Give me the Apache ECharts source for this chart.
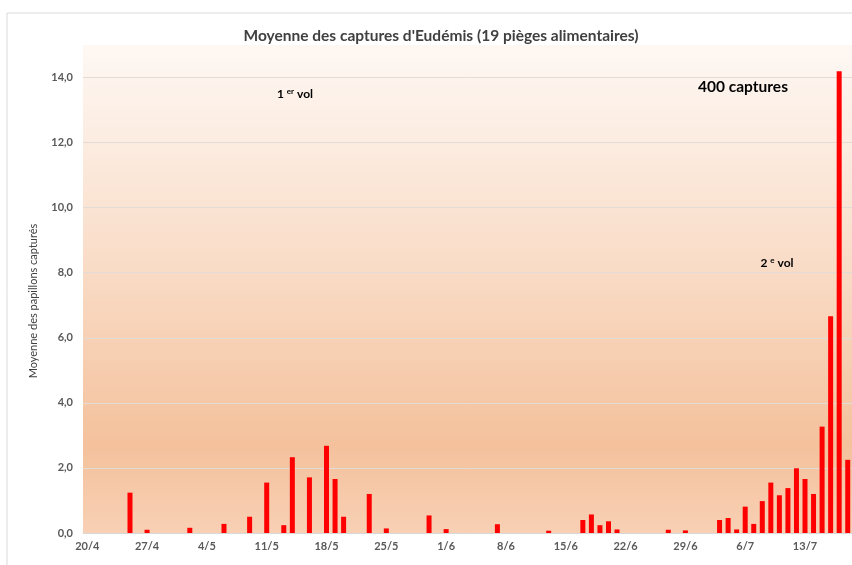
<!DOCTYPE html>
<html><head><meta charset="utf-8">
<script src="https://cdn.jsdelivr.net/npm/echarts@6/dist/echarts.min.js"></script>
<style>html,body{margin:0;padding:0;background:#fff}#c{width:852px;height:565px}</style>
</head><body><div id="c"></div>
<script>
// Categories: daily dates from 20/4 to 18/7 (90 days)
const startDay = 20, startMonth = 4;
const monthLengths = {4: 30, 5: 31, 6: 30, 7: 31};
const dayCount = 90;
const categories = [];
(function(){ let d = startDay, m = startMonth; for (let i = 0; i < dayCount; i++) { categories.push(d + '/' + m); d++; if (d > monthLengths[m]) { d = 1; m++; } } })();

// Mean captures per day
const meanCaptures = [
  0,0,0,0,0,1.24,0,0.10,0,0,
  0,0,0.16,0,0,0,0.28,0,0,0.50,
  0,1.55,0,0.24,2.33,0,1.71,0,2.68,1.66,
  0.50,0,0,1.20,0,0.14,0,0,0,0,
  0.54,0,0.12,0,0,0,0,0,0.27,0,
  0,0,0,0,0.07,0,0,0,0.40,0.57,
  0.24,0.36,0.11,0,0,0,0,0,0.10,0,
  0.08,0,0,0,0.40,0.46,0.11,0.81,0.28,0.98,
  1.55,1.16,1.38,1.99,1.66,1.20,3.27,6.66,14.19,2.25
];
const yTicks = [0, 2, 4, 6, 8, 10, 12, 14];

const titleText = "Moyenne des captures d'Eudémis (19 pièges alimentaires)";
const yAxisTitle = 'Moyenne des papillons capturés';

const chart = echarts.init(document.getElementById('c'), null, {renderer: 'canvas'});
const FONT = 'Lato, "Open Sans", sans-serif';
chart.setOption({
  animation: false,
  backgroundColor: '#ffffff',
  title: {
    text: titleText, left: 436, top: 23, textAlign: 'center',
    textStyle: {fontFamily: FONT, fontSize: 15.5, fontWeight: 'bold', color: '#404040'}
  },
  grid: {
    left: 83, right: 0, top: 45, bottom: 32, show: true, borderWidth: 0,
    backgroundColor: {type: 'linear', x: 0, y: 0, x2: 0, y2: 1, colorStops: [
      {offset: 0, color: '#fef8f4'},
      {offset: 0.45, color: '#f9dcc7'},
      {offset: 0.82, color: '#f4c19c'},
      {offset: 1, color: '#f8d0b4'}
    ]}
  },
  xAxis: {
    type: 'category', data: categories, boundaryGap: true,
    axisLine: {lineStyle: {color: '#d9d9d9'}},
    axisTick: {interval: 6, length: 4, lineStyle: {color: '#bfbfbf'}},
    axisLabel: {interval: 6, margin: 8, fontFamily: FONT, fontSize: 11, fontWeight: 'bold', color: '#595959'}
  },
  yAxis: {
    type: 'value', min: 0, max: 15, interval: 2,
    axisLine: {show: false}, axisTick: {show: false},
    splitLine: {show: true, showMaxLine: false, lineStyle: {color: '#e3dcd6'}},
    axisLabel: {
      showMaxLabel: false, margin: 10, fontFamily: FONT, fontSize: 11, fontWeight: 'bold', color: '#595959',
      formatter: v => yTicks.indexOf(v) >= 0 ? v.toFixed(1).replace('.', ',') : ''
    }
  },
  series: [{
    type: 'bar', data: meanCaptures, barWidth: 5,
    itemStyle: {color: '#ff0000'}
  }],
  graphic: [
    {type: 'rect', shape: {x: 7, y: 13, width: 900, height: 600}, style: {fill: 'none', stroke: '#d9d9d9', lineWidth: 1}, z: -1, silent: true},
    {type: 'text', x: 33, y: 301, rotation: Math.PI / 2, style: {text: yAxisTitle, align: 'center', verticalAlign: 'middle', font: '11px ' + FONT, fill: '#404040'}},
    {type: 'text', x: 295, y: 94, style: {
      text: '{n|1 }{s|er}{n| vol}', align: 'center', verticalAlign: 'middle',
      rich: {n: {fontFamily: FONT, fontSize: 12, fontWeight: 'bold', color: '#000'}, s: {fontFamily: FONT, fontSize: 8, fontWeight: 'bold', color: '#000', padding: [0,0,6,0]}}
    }},
    {type: 'text', x: 743, y: 87, style: {text: '400 captures', align: 'center', verticalAlign: 'middle', font: 'bold 15.5px ' + FONT, fill: '#000'}},
    {type: 'text', x: 777, y: 263, style: {
      text: '{n|2 }{s|e}{n| vol}', align: 'center', verticalAlign: 'middle',
      rich: {n: {fontFamily: FONT, fontSize: 12, fontWeight: 'bold', color: '#000'}, s: {fontFamily: FONT, fontSize: 8, fontWeight: 'bold', color: '#000', padding: [0,0,6,0]}}
    }}
  ]
});
</script></body></html>
